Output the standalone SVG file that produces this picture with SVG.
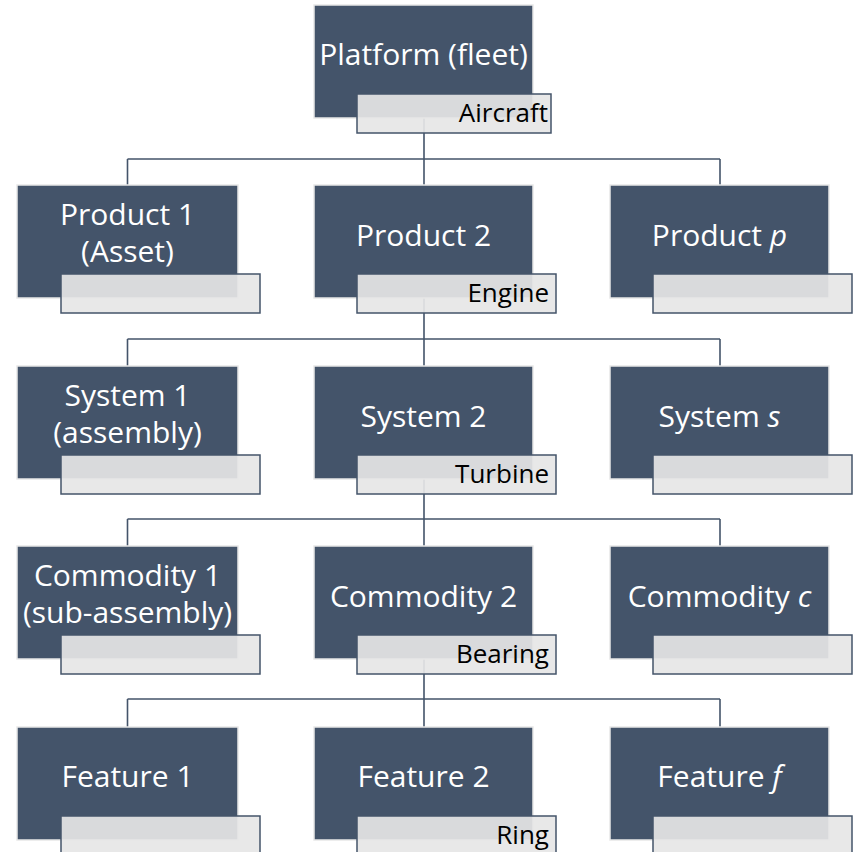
<svg xmlns="http://www.w3.org/2000/svg" width="856" height="852" viewBox="0 0 856 852">
  <style>
    .box { fill: #44546a; stroke: #e8e8e8; stroke-width: 1.5; }
    .tag { fill: #e6e6e6; fill-opacity: 0.92; stroke: #44546a; stroke-width: 1.5; }
    .name { font-family: "Open Sans", "Noto Sans", sans-serif; font-size: 30px; fill: #ffffff; text-anchor: middle; }
    .tagtxt { font-family: "Open Sans", "Noto Sans", sans-serif; font-size: 26px; fill: #000000; text-anchor: end; }
    .link { fill: none; stroke: #44546a; stroke-width: 1.6; }
  </style>

  <!-- tree connectors -->
  <g id="connectors">
    <path class="link" d="M424 118 V185 M127.5 159 H720 M127.5 159 V185 M720 159 V185"/>
    <path class="link" d="M424 298 V366 M127.5 339 H720 M127.5 339 V366 M720 339 V366"/>
    <path class="link" d="M424 479 V546 M127.5 519 H720 M127.5 519 V546 M720 519 V546"/>
    <path class="link" d="M424 659 V727 M127.5 699 H720 M127.5 699 V727 M720 699 V727"/>
  </g>

  <!-- level 0 -->
  <g id="platform">
    <rect class="box" x="314" y="5" width="219" height="113"/>
    <text class="name" x="423.5" y="65">Platform (fleet)</text>
    <rect class="tag" x="357" y="94" width="194" height="39"/>
    <text class="tagtxt" x="548" y="122">Aircraft</text>
  </g>

  <!-- level 1 -->
  <g id="product-1">
    <rect class="box" x="17" y="185" width="221" height="113"/>
    <text class="name" x="127.5" y="225">Product 1</text>
    <text class="name" x="127.5" y="262">(Asset)</text>
    <rect class="tag" x="61" y="274" width="199" height="39"/>
  </g>
  <g id="product-2">
    <rect class="box" x="314" y="185" width="219" height="113"/>
    <text class="name" x="423.5" y="246">Product 2</text>
    <rect class="tag" x="357" y="274" width="199" height="39"/>
    <text class="tagtxt" x="549" y="302">Engine</text>
  </g>
  <g id="product-p">
    <rect class="box" x="610" y="185" width="219" height="113"/>
    <text class="name" x="719.5" y="246">Product <tspan font-style="italic">p</tspan></text>
    <rect class="tag" x="653" y="274" width="199" height="39"/>
  </g>

  <!-- level 2 -->
  <g id="system-1">
    <rect class="box" x="17" y="366" width="221" height="113"/>
    <text class="name" x="127.5" y="406">System 1</text>
    <text class="name" x="127.5" y="443">(assembly)</text>
    <rect class="tag" x="61" y="455" width="199" height="39"/>
  </g>
  <g id="system-2">
    <rect class="box" x="314" y="366" width="219" height="113"/>
    <text class="name" x="423.5" y="427">System 2</text>
    <rect class="tag" x="357" y="455" width="199" height="39"/>
    <text class="tagtxt" x="549" y="483">Turbine</text>
  </g>
  <g id="system-s">
    <rect class="box" x="610" y="366" width="219" height="113"/>
    <text class="name" x="719.5" y="427">System <tspan font-style="italic">s</tspan></text>
    <rect class="tag" x="653" y="455" width="199" height="39"/>
  </g>

  <!-- level 3 -->
  <g id="commodity-1">
    <rect class="box" x="17" y="546" width="221" height="113"/>
    <text class="name" x="127.5" y="586">Commodity 1</text>
    <text class="name" x="127.5" y="623">(sub-assembly)</text>
    <rect class="tag" x="61" y="635" width="199" height="39"/>
  </g>
  <g id="commodity-2">
    <rect class="box" x="314" y="546" width="219" height="113"/>
    <text class="name" x="423.5" y="607">Commodity 2</text>
    <rect class="tag" x="357" y="635" width="199" height="39"/>
    <text class="tagtxt" x="549" y="663">Bearing</text>
  </g>
  <g id="commodity-c">
    <rect class="box" x="610" y="546" width="219" height="113"/>
    <text class="name" x="719.5" y="607">Commodity <tspan font-style="italic">c</tspan></text>
    <rect class="tag" x="653" y="635" width="199" height="39"/>
  </g>

  <!-- level 4 -->
  <g id="feature-1">
    <rect class="box" x="17" y="727" width="221" height="113"/>
    <text class="name" x="127.5" y="787">Feature 1</text>
    <rect class="tag" x="61" y="816" width="199" height="39"/>
  </g>
  <g id="feature-2">
    <rect class="box" x="314" y="727" width="219" height="113"/>
    <text class="name" x="423.5" y="787">Feature 2</text>
    <rect class="tag" x="357" y="816" width="199" height="39"/>
    <text class="tagtxt" x="549" y="844">Ring</text>
  </g>
  <g id="feature-f">
    <rect class="box" x="610" y="727" width="219" height="113"/>
    <text class="name" x="719.5" y="787">Feature <tspan font-style="italic">f</tspan></text>
    <rect class="tag" x="653" y="816" width="199" height="39"/>
  </g>
</svg>
